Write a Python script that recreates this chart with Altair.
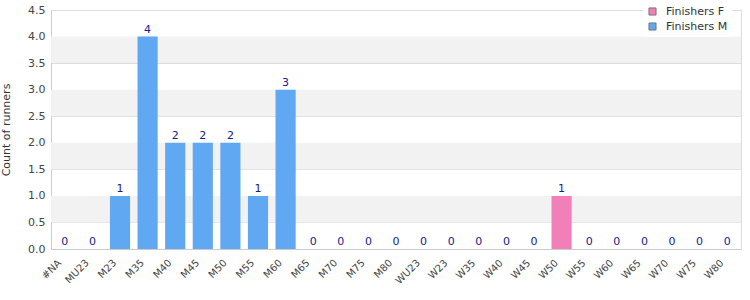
import altair as alt
import pandas as pd

categories = ["#NA", "MU23", "M23", "M35", "M40", "M45", "M50", "M55", "M60", "M65",
              "M70", "M75", "M80", "WU23", "W23", "W35", "W40", "W45", "W50", "W55",
              "W60", "W65", "W70", "W75", "W80"]
counts = [0, 0, 1, 4, 2, 2, 2, 1, 3, 0,
          0, 0, 0, 0, 0, 0, 0, 0, 1, 0,
          0, 0, 0, 0, 0]
series = ["Finishers F" if c.startswith("W") else "Finishers M" for c in categories]

band_lo = [0.5, 1.5, 2.5, 3.5]
band_hi = [1.0, 2.0, 3.0, 4.0]
y_ticks = [0, 0.5, 1, 1.5, 2, 2.5, 3, 3.5, 4, 4.5]

df = pd.DataFrame({"cat": categories, "count": counts, "series": series})
bands = pd.DataFrame({"lo": band_lo, "hi": band_hi})

FONT = "DejaVu Sans"

xscale = alt.Scale(domain=categories, paddingInner=0.27, paddingOuter=0.135)
yscale = alt.Scale(domain=[0, 4.5], nice=False)
yaxis = alt.Axis(values=y_ticks, format=".1f", tickCount=10,
                 ticks=False, labelPadding=6, domainColor="#cccccc",
                 gridColor="#dddddd", labelColor="#444444", labelFontSize=11,
                 labelFont=FONT, titleFont=FONT, titleFontSize=11,
                 labelOverlap=False,
                 titleFontWeight="normal", titleColor="#333333", titlePadding=16)
xaxis = alt.Axis(labelAngle=-45, labelAlign="right", labelBaseline="middle",
                 ticks=False, labelPadding=12, labelOffset=-5, domainColor="#cccccc",
                 labelColor="#444444", labelFontSize=10, labelFont=FONT,
                 labelOverlap=False)

bg = alt.Chart(bands).mark_rect(color="#f2f2f2").encode(
    y=alt.Y("lo:Q", scale=yscale, axis=yaxis, title="Count of runners"),
    y2="hi:Q",
    x=alt.value(0),
    x2=alt.value(690),
)

bars = alt.Chart(df).mark_bar().encode(
    x=alt.X("cat:N", scale=xscale, sort=categories, title=None, axis=xaxis),
    y=alt.Y("count:Q", scale=yscale, title="Count of runners", axis=yaxis),
    color=alt.Color("series:N",
                    scale=alt.Scale(domain=["Finishers F", "Finishers M"],
                                    range=["#f27fb9", "#60a8f2"]),
                    legend=alt.Legend(title=None, orient="none", legendX=592, legendY=-8,
                                      symbolType="square", symbolSize=50,
                                      symbolStrokeColor="#777777", symbolStrokeWidth=1,
                                      labelFont=FONT, labelFontSize=11, labelColor="#333333",
                                      labelOffset=8,
                                      fillColor="white", padding=4, rowPadding=2)),
)

labels = alt.Chart(df).mark_text(dy=-7, fontSize=11, font=FONT, color="#1a1a8a").encode(
    x=alt.X("cat:N", scale=xscale, sort=categories, title=None, axis=xaxis),
    y=alt.Y("count:Q", scale=yscale, title="Count of runners", axis=yaxis),
    text="count:Q",
)

chart = alt.layer(bg, bars, labels).properties(
    width=690, height=239,
    autosize=alt.AutoSizeParams(type="none"),
    padding={"left": 51, "top": 10, "right": 9, "bottom": 51},
).configure_view(stroke="#dddddd").configure(background="white")

chart.save("out.html", embed_options={"renderer": "svg", "actions": False})
